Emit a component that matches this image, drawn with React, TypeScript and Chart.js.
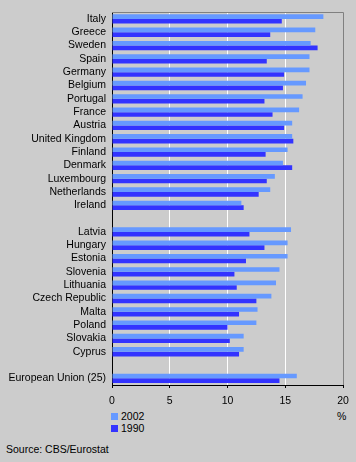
import React, { useEffect, useRef } from "react";
import { Chart, registerables } from "chart.js";

Chart.register(...registerables);

const categories: string[] = [
  "Italy", "Greece", "Sweden", "Spain", "Germany", "Belgium", "Portugal", "France",
  "Austria", "United Kingdom", "Finland", "Denmark", "Luxembourg", "Netherlands", "Ireland",
  "",
  "Latvia", "Hungary", "Estonia", "Slovenia", "Lithuania", "Czech Republic", "Malta",
  "Poland", "Slovakia", "Cyprus",
  "",
  "European Union (25)",
];

const values2002: (number | null)[] = [
  18.3, 17.6, 17.2, 17.1, 17.1, 16.8, 16.5, 16.2, 15.6, 15.6, 15.2, 14.8, 14.1, 13.7, 11.2,
  null,
  15.5, 15.2, 15.2, 14.5, 14.2, 13.8, 12.6, 12.5, 11.4, 11.4,
  null,
  16.0,
];

const values1990: (number | null)[] = [
  14.7, 13.7, 17.8, 13.4, 14.9, 14.8, 13.2, 13.9, 14.9, 15.7, 13.3, 15.6, 13.4, 12.7, 11.4,
  null,
  11.9, 13.2, 11.6, 10.6, 10.8, 12.5, 11.0, 10.0, 10.2, 11.0,
  null,
  14.5,
];

const seriesLabels = ["2002", "1990"];
const xTicks = [0, 5, 10, 15, 20];
const unitLabel = "%";
const sourceText = "Source: CBS/Eurostat";

const LIGHT = "#6699ff";
const DARK = "#3333ff";
const BG = "#cccccc";
const FONT = "'Liberation Sans', Arial, sans-serif";

export default function App() {
  const canvasRef = useRef<HTMLCanvasElement | null>(null);

  useEffect(() => {
    document.body.style.margin = "0";
    const canvas = canvasRef.current;
    if (!canvas) return;

    const framePlugin = {
      id: "frame",
      afterDraw(chart: any) {
        const { ctx, chartArea } = chart;
        ctx.save();
        ctx.strokeStyle = "#808080";
        ctx.lineWidth = 1;
        ctx.beginPath();
        ctx.moveTo(chartArea.left, Math.round(chartArea.top) + 0.5);
        ctx.lineTo(Math.round(chartArea.right) + 0.5, Math.round(chartArea.top) + 0.5);
        ctx.lineTo(Math.round(chartArea.right) + 0.5, chartArea.bottom);
        ctx.stroke();
        ctx.restore();
      },
    };

    const chart = new Chart(canvas, {
      type: "bar",
      data: {
        labels: categories,
        datasets: [
          {
            label: seriesLabels[0],
            data: values2002,
            backgroundColor: LIGHT,
            borderWidth: 0,
            categoryPercentage: 0.7,
            barPercentage: 1,
          },
          {
            label: seriesLabels[1],
            data: values1990,
            backgroundColor: DARK,
            borderWidth: 0,
            categoryPercentage: 0.7,
            barPercentage: 1,
          },
        ],
      },
      options: {
        indexAxis: "y",
        animation: false,
        responsive: false,
        devicePixelRatio: 1,
        layout: { padding: { top: 10, right: 13, left: 0, bottom: 0 } },
        plugins: {
          legend: { display: false },
          tooltip: { enabled: false },
        },
        scales: {
          x: {
            min: 0,
            max: 20,
            afterBuildTicks(scale: any) {
              scale.ticks = xTicks.map((v) => ({ value: v }));
            },
            afterFit(scale: any) {
              scale.height = 25;
            },
            ticks: {
              color: "#000",
              font: { family: FONT, size: 10.5 },
              padding: 7,
              maxRotation: 0,
            },
            grid: {
              color: (c: any) =>
                c.tick && (c.tick.value === 0 || c.tick.value === 20) ? "rgba(0,0,0,0)" : "#ffffff",
              tickColor: "#000",
              tickLength: 3,
              lineWidth: 1,
            },
            border: { display: true, color: "#000", width: 1 },
          },
          y: {
            afterFit(scale: any) {
              scale.width = 112;
            },
            ticks: {
              color: "#000",
              font: { family: FONT, size: 10.5 },
              padding: 6,
              autoSkip: false,
            },
            grid: { display: false, drawTicks: false },
            border: { display: true, color: "#000", width: 1 },
          },
        },
      },
      plugins: [framePlugin],
    });

    return () => chart.destroy();
  }, []);

  const textStyle: React.CSSProperties = {
    position: "absolute",
    fontFamily: FONT,
    fontSize: "10.5px",
    color: "#000",
    lineHeight: "12px",
    whiteSpace: "nowrap",
  };

  return (
    <div style={{ position: "relative", width: 356, height: 462, background: BG, overflow: "hidden" }}>
      <canvas ref={canvasRef} width={356} height={410} style={{ position: "absolute", left: 0, top: 0 }} />
      <div style={{ position: "absolute", left: 111, top: 413, width: 7, height: 7, background: LIGHT }} />
      <div style={{ ...textStyle, left: 121, top: 410 }}>{seriesLabels[0]}</div>
      <div style={{ position: "absolute", left: 111, top: 425, width: 7, height: 7, background: DARK }} />
      <div style={{ ...textStyle, left: 121, top: 422 }}>{seriesLabels[1]}</div>
      <div style={{ ...textStyle, left: 337, top: 410 }}>{unitLabel}</div>
      <div style={{ ...textStyle, left: 6, top: 443 }}>{sourceText}</div>
    </div>
  );
}
